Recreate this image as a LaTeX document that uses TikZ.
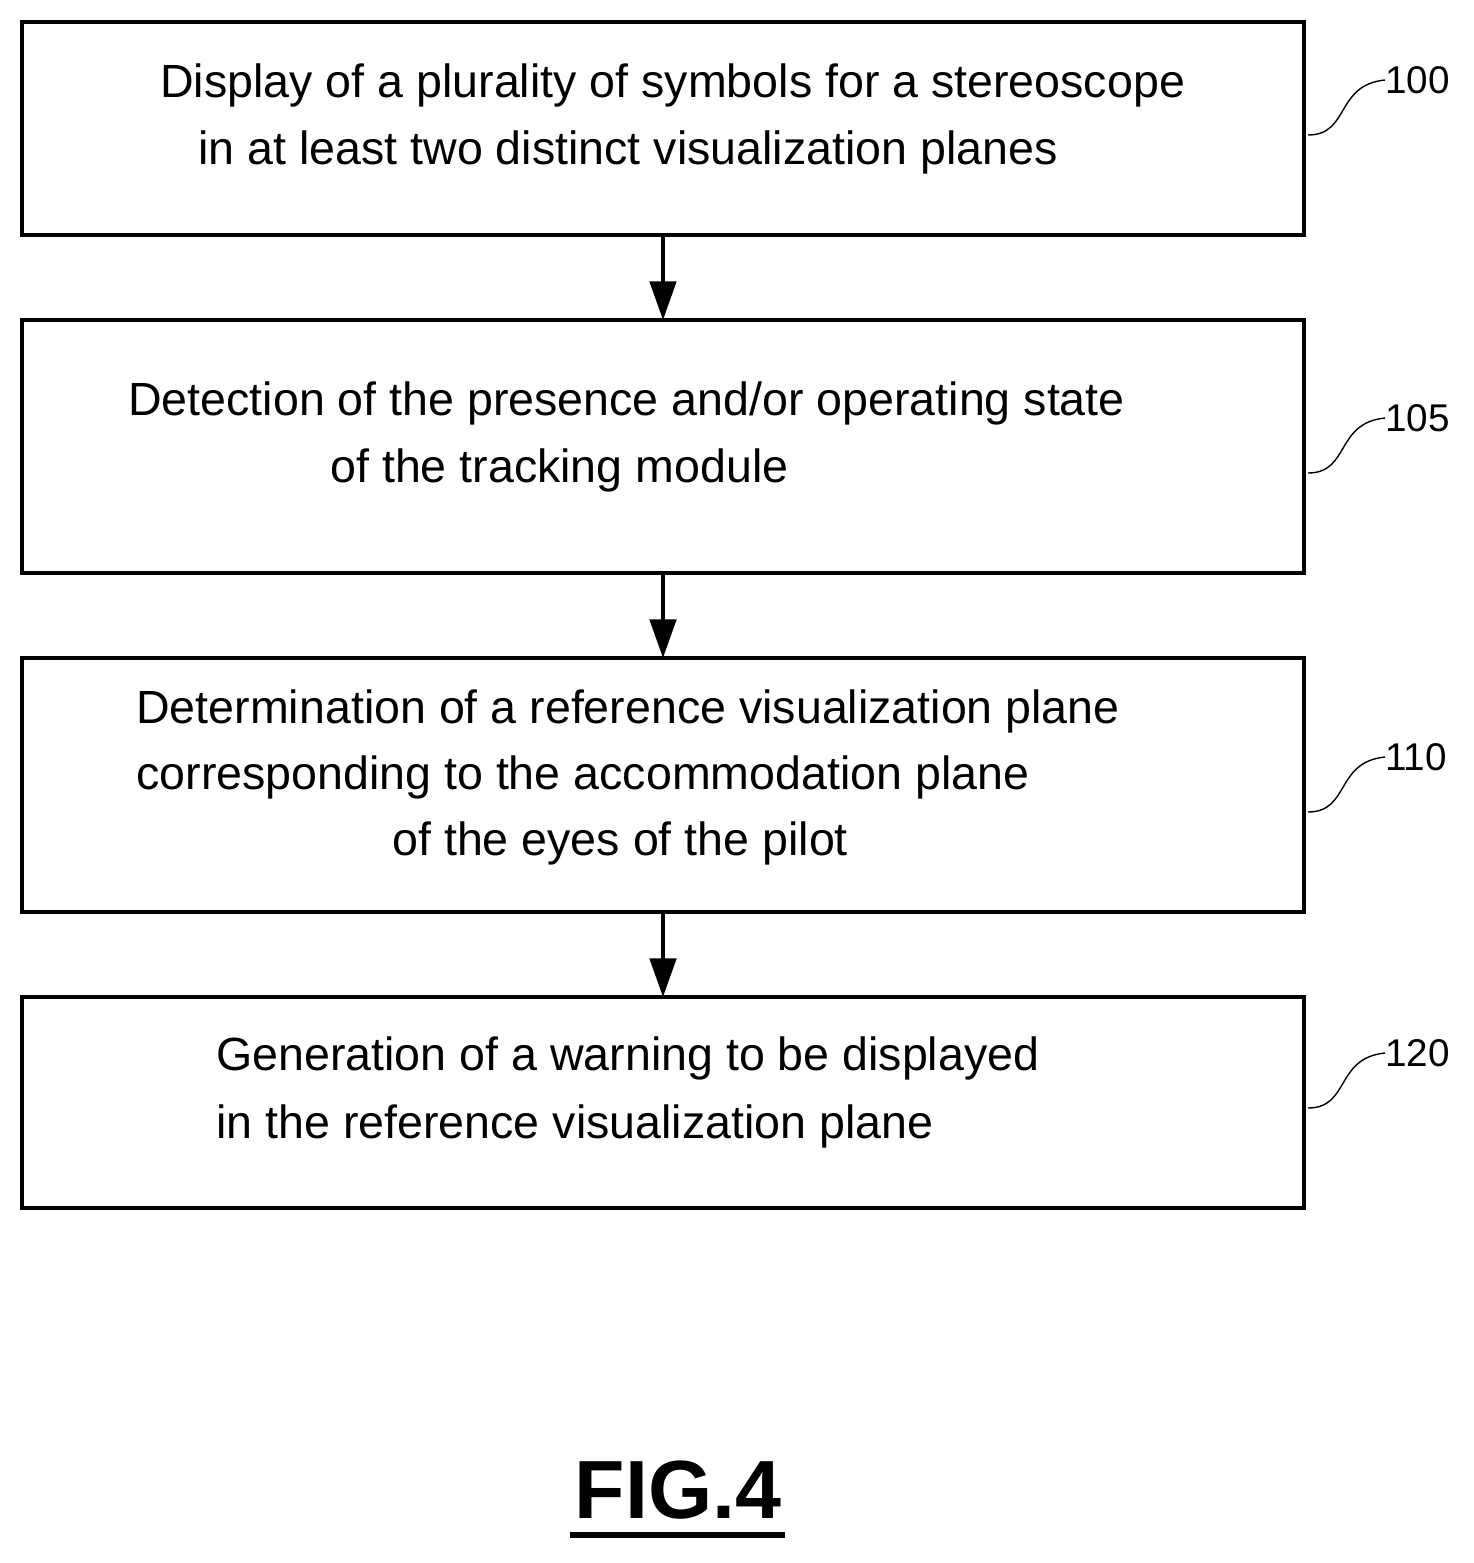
\documentclass[tikz,border=0pt]{standalone}
\usepackage{fontspec}
\setmainfont{Liberation Sans}
\usetikzlibrary{arrows.meta}
\begin{document}
\begin{tikzpicture}[x=0.02cm,y=-0.02cm,
 box/.style={draw,line width=2.8pt},
 txt/.style={anchor=west,inner sep=0pt,font=\fontsize{26.5}{30}\selectfont},
 lbl/.style={anchor=west,inner sep=0pt,font=\fontsize{22}{26}\selectfont},
 arr/.style={line width=2.2pt,-{Triangle[length=22pt,width=15pt]}},
 lead/.style={line width=0.8pt}]
\useasboundingbox (0,0) rectangle (1474,1563);
\draw[box] (22,22) rectangle (1304,235);
\draw[box] (22,320) rectangle (1304,573);
\draw[box] (22,658) rectangle (1304,912);
\draw[box] (22,997) rectangle (1304,1208);
\coordinate (b1) at (663,235); \coordinate (t2) at (663,320);
\coordinate (b2) at (663,573); \coordinate (t3) at (663,658);
\coordinate (b3) at (663,912); \coordinate (t4) at (663,997);
\draw[arr] (b1) -- (t2); \draw[arr] (b2) -- (t3); \draw[arr] (b3) -- (t4);
\node[txt] (l11) at (160,85) {Display of a plurality of symbols for a stereoscope};
\node[txt] (l12) at (198,152) {in at least two distinct visualization planes};
\node[txt] (l21) at (128,403) {Detection of the presence and/or operating state};
\node[txt] (l22) at (330,470) {of the tracking module};
\node[txt] (l31) at (136,711) {Determination of a reference visualization plane};
\node[txt] (l32) at (136,777) {corresponding to the accommodation plane};
\node[txt] (l33) at (392,843) {of the eyes of the pilot};
\node[txt] (l41) at (216,1058) {Generation of a warning to be displayed};
\node[txt] (l42) at (216,1126) {in the reference visualization plane};
\foreach \y/\t/\n in {80/100/a,418/105/b,757/110/c,1053/120/d}{
 \node[lbl] (n\n) at (1385,\y) {\t};
 \coordinate (s\n) at (1308,\y+55);
 \draw[lead] (s\n) .. controls (1350,\y+55) and (1335,\y+5) .. (n\n.west);
}
\node[inner sep=0pt,font=\fontsize{47}{56}\selectfont\bfseries] (fig) at (678,1490) {FIG.4};
\draw[line width=3pt] (570,1535) -- (785,1535);
\end{tikzpicture}
\end{document}
